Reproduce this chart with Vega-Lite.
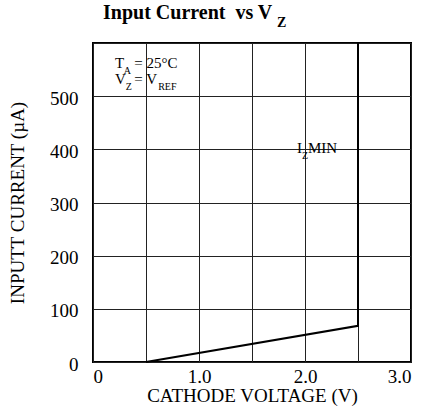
{
  "$schema": "https://vega.github.io/schema/vega-lite/v6.json",
  "autosize": {"type": "none"},
  "width": 318,
  "height": 319,
  "padding": {"left": 93, "top": 43, "right": 14, "bottom": 57},
  "background": "white",
  "config": {
    "font": "Liberation Serif",
    "view": {"stroke": "#000", "strokeWidth": 2},
    "axis": {"labelFont": "Liberation Serif", "titleFont": "Liberation Serif", "labelColor": "#000", "titleColor": "#000", "titleFontWeight": "normal", "gridColor": "#222", "gridOpacity": 1, "gridWidth": 1, "domain": false, "ticks": false, "labelFontSize": 19, "titleFontSize": 19}
  },
  "title": {"text": "Input Current\u00a0 vs V", "anchor": "start", "frame": "group", "dx": 10, "offset": -23, "baseline": "alphabetic", "fontSize": 20, "fontWeight": "bold", "font": "Liberation Serif", "color": "#000"},
  "layer": [
    {
      "data": {"values": [
        {"voltage": 0.5, "current": 0, "seq": 1},
        {"voltage": 2.5, "current": 68, "seq": 2},
        {"voltage": 2.5, "current": 600, "seq": 3}
      ]},
      "mark": {"type": "line", "color": "#000", "strokeWidth": 2},
      "encoding": {
        "x": {"field": "voltage", "type": "quantitative", "scale": {"domain": [0, 3]},
          "axis": {"title": "CATHODE VOLTAGE (V)", "values": [0, 0.5, 1, 1.5, 2, 2.5, 3], "labelExpr": "datum.value === 0 ? '0' : (datum.value % 1 === 0 ? format(datum.value, '.1f') : '')", "labelPadding": 5, "titlePadding": 0}},
        "y": {"field": "current", "type": "quantitative", "scale": {"domain": [0, 600]},
          "axis": {"title": "INPUTT CURRENT (µA)", "values": [0, 100, 200, 300, 400, 500, 600], "labelExpr": "datum.value === 600 ? '' : datum.label", "labelPadding": 15, "labelOffset": 2, "titlePadding": 22}},
        "order": {"field": "seq"}
      }
    },
    {
      "mark": {"type": "rect", "fill": "white"},
      "encoding": {
        "x": {"datum": 1.81}, "x2": {"datum": 2.44},
        "y": {"datum": 377}, "y2": {"datum": 429}
      }
    },
    {
      "data": {"values": [
        {"label": "T", "vx": 0.2075, "vy": 553},
        {"label": "= 25°C", "vx": 0.39, "vy": 553},
        {"label": "V", "vx": 0.2075, "vy": 523},
        {"label": "= V", "vx": 0.39, "vy": 523},
        {"label": "I", "vx": 1.925, "vy": 393},
        {"label": "MIN", "vx": 2.028, "vy": 393}
      ]},
      "mark": {"type": "text", "align": "left", "baseline": "alphabetic", "fontSize": 15, "color": "#000", "font": "Liberation Serif"},
      "encoding": {
        "x": {"field": "vx", "type": "quantitative"},
        "y": {"field": "vy", "type": "quantitative"},
        "text": {"field": "label"}
      }
    },
    {
      "data": {"values": [
        {"label": "A", "vx": 0.29, "vy": 541},
        {"label": "Z", "vx": 0.31, "vy": 511},
        {"label": "REF", "vx": 0.615, "vy": 511},
        {"label": "Z", "vx": 1.972, "vy": 382}
      ]},
      "mark": {"type": "text", "align": "left", "baseline": "alphabetic", "fontSize": 10, "color": "#000", "font": "Liberation Serif"},
      "encoding": {
        "x": {"field": "vx", "type": "quantitative"},
        "y": {"field": "vy", "type": "quantitative"},
        "text": {"field": "label"}
      }
    },
    {
      "data": {"values": [{"label": "Z", "vx": 1.735, "vy": 630}]},
      "mark": {"type": "text", "align": "left", "baseline": "alphabetic", "fontSize": 14, "fontWeight": "bold", "color": "#000", "font": "Liberation Serif"},
      "encoding": {
        "x": {"field": "vx", "type": "quantitative"},
        "y": {"field": "vy", "type": "quantitative"},
        "text": {"field": "label"}
      }
    }
  ]
}
